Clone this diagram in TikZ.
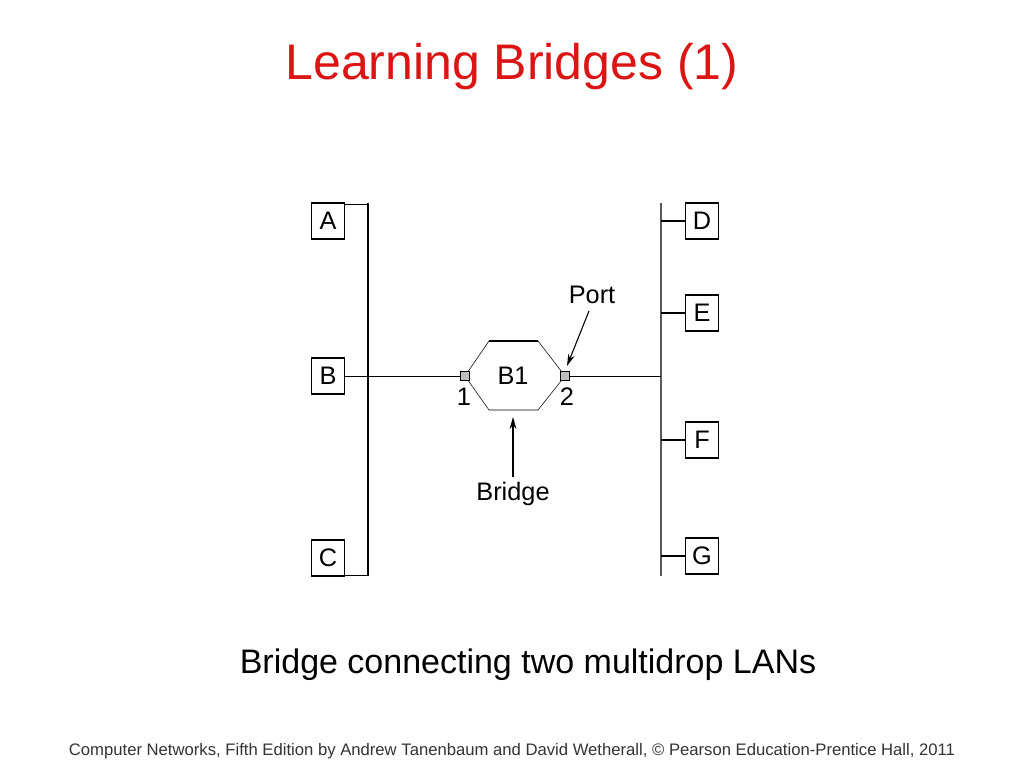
\documentclass[tikz,border=0pt]{standalone}
\usepackage{fontspec}
\setmainfont{Liberation Sans}
\usetikzlibrary{arrows.meta}
\definecolor{titlered}{RGB}{220,20,20}
\begin{document}
\begin{tikzpicture}[x=0.75pt,y=-0.75pt,
  host/.style={draw,thick,fill=white,minimum width=25pt,minimum height=27pt,inner sep=0pt,font=\fontsize{19}{19}\selectfont},
  port/.style={draw,fill=gray!50,minimum size=7pt,inner sep=0pt},
  lbl/.style={font=\fontsize{19}{19}\selectfont},
  arr/.style={-{Stealth[length=9pt,width=5pt]},thick}]
\useasboundingbox (0,0) rectangle (1024,768);
\node[text=titlered,font=\fontsize{37.5}{37.5}\selectfont] (title) at (512,67) {Learning Bridges (1)};
% buses
\coordinate (l1) at (368,203); \coordinate (l2) at (368,576);
\coordinate (r1) at (661,203); \coordinate (r2) at (661,576);
\draw[thick] (l1) -- (l2);
\draw[thick,gray!70!black] (r1) -- (r2);
% hosts
\node[host] (A) at (328,221) {A};
\node[host] (B) at (328,376) {B};
\node[host] (C) at (328,558) {C};
\node[host] (D) at (702,221) {D};
\node[host] (E) at (702,313) {E};
\node[host] (F) at (702,440) {F};
\node[host] (G) at (702,556) {G};
\draw (A.east |- 0,204) -- (368,204);
\draw (C.east |- 0,575) -- (368,575);
\draw (B.east) -- (465,376);
\draw[thick] (661,221) -- (D.west);
\draw[thick] (661,313) -- (E.west);
\draw[thick] (661,440) -- (F.west);
\draw[thick] (661,556) -- (G.west);
% bridge
\draw (465,376) -- (489,341);
\draw[very thick] (489,341) -- (538,341);
\draw (538,341) -- (565,376) -- (538,410) -- (489,410) -- (465,376);
\node[lbl] (B1) at (513,376) {B1};
\node[port] (p1) at (465,376) {};
\node[port] (p2) at (565,376) {};
\draw (p2.east) -- (661,376);
\node[lbl] (n1) at (464,397) {1};
\node[lbl] (n2) at (567,397) {2};
\node[lbl] (port) at (592,295) {Port};
\node[lbl] (bridge) at (513,494) {Bridge};
\draw[arr] (589,311) -- (567,366);
\draw[arr] (bridge.north) -- (513,417);
\node[font=\fontsize{25.5}{25.5}\selectfont] (cap) at (528,665) {Bridge connecting two multidrop LANs};
\node[font=\fontsize{12.5}{12.5}\selectfont,text=black!80] (foot) at (512,751) {Computer Networks, Fifth Edition by Andrew Tanenbaum and David Wetherall, © Pearson Education-Prentice Hall, 2011};
\end{tikzpicture}
\end{document}
